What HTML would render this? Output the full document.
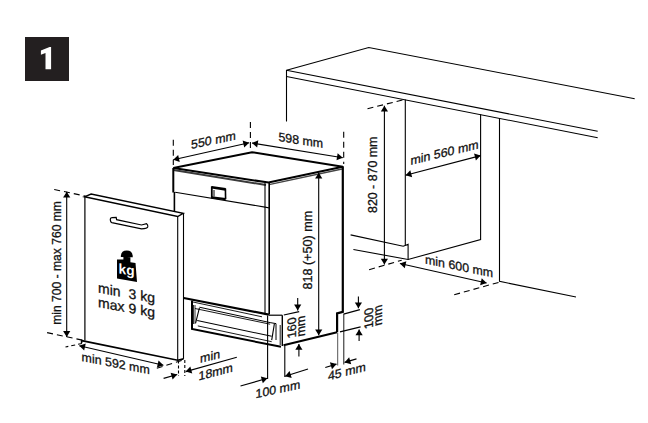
<!DOCTYPE html>
<html><head><meta charset="utf-8">
<style>
html,body{margin:0;padding:0;background:#fff;width:648px;height:423px;overflow:hidden}
svg{display:block}
text{font-family:"Liberation Sans",sans-serif;fill:#111;stroke:#111;stroke-width:0.3}
</style></head><body>
<svg width="648" height="423" viewBox="0 0 648 423">
<defs>
<marker id="ah" markerUnits="userSpaceOnUse" markerWidth="7" markerHeight="8" refX="5.8" refY="3.6" orient="auto" overflow="visible"><path d="M0,0 L5.8,3.6 L0,7.2 z" fill="#000"/></marker>
<marker id="as" markerUnits="userSpaceOnUse" markerWidth="7" markerHeight="8" refX="0" refY="3.6" orient="auto" overflow="visible"><path d="M5.8,0 L0,3.6 L5.8,7.2 z" fill="#000"/></marker>
</defs>
<rect width="648" height="423" fill="#fff"/>

<!-- box 1 -->
<rect x="25" y="37" width="44" height="44" fill="#231f20"/>
<path d="M51.1,47 L49.6,47 L40.9,50.4 L40.9,54.7 L45.5,53 L45.5,69.2 L51.1,69.2 Z" fill="#fff"/>

<g fill="none" stroke="#000" stroke-width="1.1">
<!-- countertop -->
<path d="M286.5,70.2 L597.7,131.3"/>
<path d="M286.5,76.5 L597.7,137.7"/>
<path d="M286.5,70.2 L368.75,47.5 L634.7,98.7"/>
<path d="M286.5,70 L286.5,121.5"/>
<!-- cabinet -->
<path d="M405.3,99.5 L405.3,244.9"/>
<path d="M350.6,234.9 L403.2,246.3 L408.1,244.4 L408.1,259.5"/>
<path d="M353.4,249.5 L408.1,259.5 L480.6,239.5 L480.6,114.2"/>
<path d="M499.5,117.9 L499.5,281.4 L576,297"/>
<path d="M454.2,294.7 L498.6,282.4" stroke-dasharray="6,4"/>
<path d="M369.1,269.7 L401.7,260.2" stroke-dasharray="6,4"/>
<path d="M367.5,108.75 L402.5,100" stroke-dasharray="6,4"/>
<path d="M384.4,264.5 L384.4,105.8" marker-end="url(#ah)" marker-start="url(#as)"/>
<path d="M405.6,175.3 L480.6,155.6" marker-end="url(#ah)" marker-start="url(#as)"/>
<path d="M399.9,263.5 L486.6,283" marker-end="url(#ah)" marker-start="url(#as)"/>

<!-- dishwasher -->
<path d="M173.3,168 L252,152.2 L342.8,166.7 L268.5,182.6 L173.3,168 Z" stroke-width="2"/>
<path d="M173.5,170.1 L266,185" stroke-width="2" stroke="#3a3a3a"/>
<path d="M269,184.6 L342,169" stroke-width="1.3" stroke="#444"/>
<path d="M173.3,168 L173.3,192.5" stroke-width="2"/>
<path d="M174.4,192 L174.4,212" stroke-width="1.6"/>
<path d="M175.2,192.3 L265,207.1 L269.6,208"/>
<path d="M265,183 L265,314.6"/>
<path d="M269.2,182 L269.2,314.6" stroke-width="1.6"/>
<path d="M342.8,166.2 L342.8,311.9 L337.1,313.4 L337.1,332.2" stroke-width="2.2"/>
<path d="M283.5,345.3 L337.1,332.2" stroke-width="2.2"/>
<path d="M183.7,298 L268.9,314.6" stroke-width="2.2"/>
<!-- plinth -->
<path d="M192,300.5 L192,329 L281,346.8" stroke-width="2"/>
<path d="M282.3,315.2 L282.3,346"  stroke-width="1.4"/>
<path d="M268.9,315.2 L282.3,315.2" stroke-width="1.2"/>
<path d="M193,302 L262,316.8" stroke-width="0.9"/>
<path d="M193.5,305 L193.5,324 M195,305 L195,324" stroke-width="0.8"/>
<path d="M199.4,307.2 L270.1,322.6 L276,323.6 L276,340" stroke-width="1"/>
<path d="M195,308.5 L270.1,324.2" stroke-width="0.9"/>
<path d="M199.4,307.8 L195.6,323.2" stroke-width="1.1"/>
<path d="M274.4,323.6 L271.7,340.1" stroke-width="1.1"/>
<path d="M197.2,320.5 L271.7,336.3" stroke-width="1.1"/>
<path d="M197.8,325.9 L271.7,341.7" stroke-width="0.9"/>
<path d="M280.2,325 L280.2,345" stroke-width="0.9"/>
<!-- handle -->
<path d="M211.6,187.2 L225.6,189.4" stroke-width="2.6"/>
<path d="M211.8,186.3 L211.8,198.2" stroke-width="1.8"/>
<path d="M225.4,188.4 L225.6,199.2" stroke-width="1.6"/>
<path d="M211.5,197.3 L225.7,199.1" stroke-width="2.2"/>
<path d="M214,190 L214,196.5" stroke-width="1"/>
<!-- door -->
<path d="M84.4,196.8 L91.1,194.1 L183.2,213.3 L177.7,216.5 Z" stroke-width="1.4"/>
<path d="M84.9,196.8 L84.9,340.5" stroke-width="1.2"/>
<path d="M177.7,216.5 L177.7,360"/>
<path d="M183.5,213.3 L183.5,358.9"/>
<path d="M81.6,343 L81.6,340.6 L177.7,360.2 L183.5,358.9" stroke-width="1.6"/>
<path d="M110.3,219.2 Q110.2,217.9 112,217.7 L116.2,217.3 L116.6,219.7 L141.5,225 L146.6,223.7 Q148,224.6 147.8,226.9 Q147.3,228.7 141.5,228.8 L111.8,222.6 Q110.4,222.2 110.3,219.2 Z" stroke-width="1.2"/>

<!-- door dims -->
<path d="M54.2,189.5 L85.5,196.1" stroke-dasharray="6,4"/>
<path d="M47.1,332.6 L83.7,340.4" stroke-dasharray="6,4"/>
<path d="M66.7,336.9 L66.7,191.7" marker-end="url(#ah)" marker-start="url(#as)"/>
<path d="M82,343.5 L65.5,347" stroke-dasharray="4,3"/>
<path d="M79.3,345.8 L163.4,365.2" marker-end="url(#ah)" marker-start="url(#as)"/>
<path d="M156.8,368.2 L184,359.7" stroke-dasharray="6,4"/>
<path d="M178.5,360.6 L178.5,376" stroke-dasharray="3,2"/>
<path d="M184.8,360 L184.8,376" stroke-dasharray="3,2"/>
<path d="M163.6,378.4 L177.2,374.5" marker-end="url(#ah)"/>
<path d="M236.8,357.2 L185.7,371.6" marker-end="url(#ah)"/>

<!-- dw dims -->
<path d="M173.3,139.7 L173.3,165" stroke-dasharray="6,4"/>
<path d="M250.4,122 L250.4,149" stroke-dasharray="6,4"/>
<path d="M343.7,131.8 L343.7,164" stroke-dasharray="6,4"/>
<path d="M173.3,159.8 L249.1,142.8" marker-end="url(#ah)" marker-start="url(#as)"/>
<path d="M252,143 L342.8,157.7" marker-end="url(#ah)" marker-start="url(#as)"/>
<path d="M318.7,335.3 L318.7,172.7" marker-end="url(#ah)" marker-start="url(#as)"/>
<path d="M267.6,315.4 L267.6,379"/>
<path d="M284.8,346 L284.8,377"/>
<path d="M240.5,386 L267.4,378.3" marker-end="url(#ah)"/>
<path d="M308,369 L285.1,376.2" marker-end="url(#ah)"/>
<path d="M337.7,333 L337.7,365.5" stroke-width="1" stroke="#555"/>
<path d="M343.8,314.2 L343.8,364.5" stroke-width="0.9"/>
<path d="M325.3,367.5 L336.5,364.1" marker-end="url(#ah)"/>
<path d="M356.5,358.9 L344.6,362.4" marker-end="url(#ah)"/>
<path d="M283.8,315 L299.2,311.6"/>
<path d="M297.7,298 L297.7,310.4" marker-end="url(#ah)"/>
<path d="M298.9,356.5 L298.9,343.9" marker-end="url(#ah)"/>
<path d="M343.5,314.1 L359.9,309.6"/>
<path d="M340,331.9 L360.6,326.9"/>
<path d="M358.4,296.4 L358.4,308.2" marker-end="url(#ah)"/>
<path d="M359.1,341.1 L359.1,329.5" marker-end="url(#ah)"/>
</g>

<!-- weight icon -->
<path d="M117,259.6 L123.4,259.4 L123.4,256.8 L130.4,257.3 L130.4,262.2 L135.5,263 L137,281.9 L117,278.6 Z" fill="#000"/>
<path d="M120.8,257 Q120.8,250.6 126.8,250.6 Q132.8,250.6 132.8,257.3 Z" fill="#000"/>
<text transform="translate(126.6,274.5) skewY(9) scale(0.98,1)" font-size="14" font-weight="bold" text-anchor="middle" style="fill:#fff;stroke:none">kg</text>
<g font-size="12.4">
<text transform="translate(191.1,149) skewY(-12)">550 mm</text>
<text transform="translate(278.4,141) skewY(8.8)">598 mm</text>
<text transform="translate(312.4,289.6) rotate(-90)" font-size="12.6">818 (+50) mm</text>
<text transform="translate(377,213) rotate(-90)">820 - 870 mm</text>
<text transform="translate(410.4,165) skewY(-13.6)">min 560 mm</text>
<text transform="translate(425,263.5) skewY(11.6)">min 600 mm</text>
<text transform="translate(60.5,324.8) rotate(-90)" font-size="12.1">min 700 - max 760 mm</text>
<text transform="translate(81.6,361) skewY(11)">min 592 mm</text>
<text transform="translate(200.1,363.1) skewY(-14.5)">min</text>
<text transform="translate(198.5,380.6) skewY(-14.5)">18mm</text>
<text transform="translate(255.5,398.2) skewY(-12.2)">100 mm</text>
<text transform="translate(327.9,380.5) skewY(-14.4)">45 mm</text>
<text transform="matrix(0,-1,1,-0.2,296.2,337.3)">160</text>
<text transform="matrix(0,-1,1,-0.2,304.6,335.8)">mm</text>
<text transform="matrix(0,-1,1,-0.27,373.4,327.6)">100</text>
<text transform="matrix(0,-1,1,-0.27,381.9,324.8)">mm</text>
</g>
<g font-size="14" style="stroke-width:0.55">
<text transform="translate(98,292.5) skewY(10.5)">min<tspan x="30.5">3 kg</tspan></text>
<text transform="translate(98,307) skewY(10.5)">max<tspan x="30.5">9 kg</tspan></text>
</g>
</svg>
</body></html>
